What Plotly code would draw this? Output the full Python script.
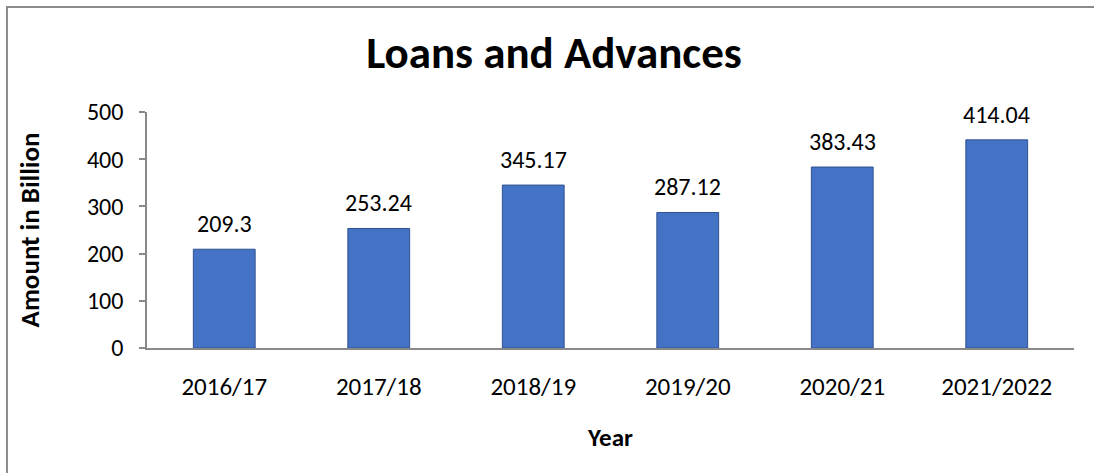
import plotly.graph_objects as go

years = ["2016/17", "2017/18", "2018/19", "2019/20", "2020/21", "2021/2022"]
bar_heights = [209.3, 253.24, 345.17, 287.12, 383.43, 441.0]
data_labels = ["209.3", "253.24", "345.17", "287.12", "383.43", "414.04"]
y_ticks = [0, 100, 200, 300, 400, 500]

FONT = "Carlito, Calibri, Lato, sans-serif"
W, H = 1094, 473
L, R, T, B = 147, 20, 112, 125
PW, PH = W - L - R, H - T - B

fig = go.Figure()
fig.add_trace(go.Bar(
    x=years, y=bar_heights, width=0.4,
    marker=dict(color="#4472C4", line=dict(color="#2F528F", width=1)),
    hoverinfo="skip",
))

for x, y, t in zip(years, bar_heights, data_labels):
    fig.add_annotation(x=x, y=y, text=t, showarrow=False, yanchor="bottom",
                       yshift=9, font=dict(family=FONT, size=24, color="#000000"))

fig.update_layout(
    width=W, height=H,
    margin=dict(l=L, r=R, t=T, b=B, autoexpand=False),
    paper_bgcolor="white", plot_bgcolor="white",
    showlegend=False,
    title=dict(text="<b>Loans and Advances</b>", x=554 / W, xanchor="center",
               y=1 - 52 / H, yanchor="middle", xref="container", yref="container",
               font=dict(family=FONT, size=45, color="#000000")),
    font=dict(family=FONT, color="#000000"),
)

fig.update_xaxes(
    automargin=False,
    showline=True, linecolor="#898989", linewidth=2,
    ticks="", showgrid=False,
    tickfont=dict(family=FONT, size=25, color="#000000"),
    ticklabelstandoff=15,
    title=dict(text="<b>Year</b>", font=dict(family=FONT, size=25, color="#000000"), standoff=27),
)
fig.update_yaxes(
    automargin=False,
    range=[0, 500], tickvals=y_ticks,
    showline=True, linecolor="#898989", linewidth=1.5,
    ticks="outside", ticklen=6, tickcolor="#898989", tickwidth=1.5,
    showgrid=False, zeroline=False,
    tickfont=dict(family=FONT, size=24, color="#000000"),
    ticklabelstandoff=11,
    title=dict(text="<b>Amount in Billion</b>", font=dict(family=FONT, size=27, color="#000000"), standoff=40),
)

# outer chart border (left and top edges visible)
fig.add_shape(type="rect", xref="paper", yref="paper",
              x0=(7 - L) / PW, x1=1.2, y0=-1.0, y1=1 + (T - 7) / PH,
              line=dict(color="#8c8c8c", width=2), fillcolor="rgba(0,0,0,0)", layer="below")

fig.write_html("out.html", config={"displayModeBar": False},
               post_script="document.body.style.margin='0';")
